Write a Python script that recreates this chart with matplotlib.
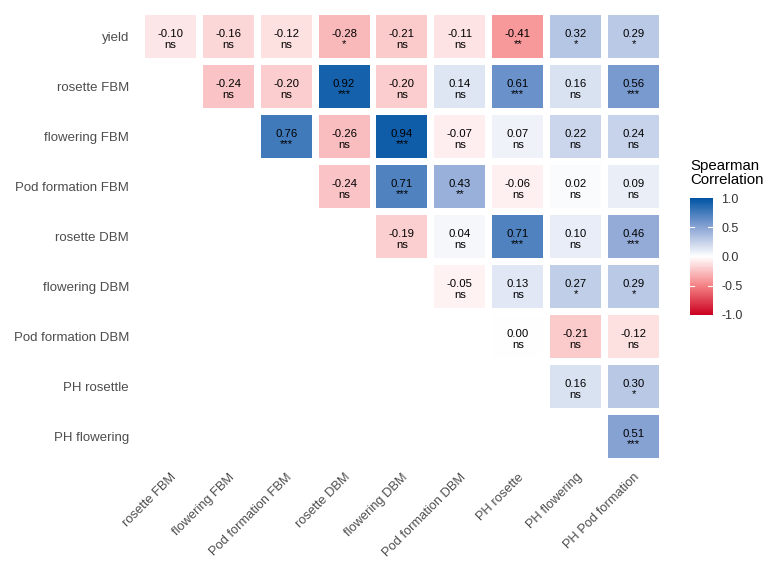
import numpy as np
import matplotlib.pyplot as plt
from matplotlib.colors import LinearSegmentedColormap, Normalize
from matplotlib.patches import Rectangle
from matplotlib.colorbar import ColorbarBase

plt.rcParams['font.family'] = ['Liberation Sans', 'DejaVu Sans']

# 行ラベル（上から）と列ラベル（左から）
row_labels = ["yield", "rosette FBM", "flowering FBM", "Pod formation FBM",
              "rosette DBM", "flowering DBM", "Pod formation DBM",
              "PH rosettle", "PH flowering"]
col_labels = ["rosette FBM", "flowering FBM", "Pod formation FBM",
              "rosette DBM", "flowering DBM", "Pod formation DBM",
              "PH rosette", "PH flowering", "PH Pod formation"]

# 上三角の相関係数（各行は列 i から始まる）
rho = [
    [-0.10, -0.16, -0.12, -0.28, -0.21, -0.11, -0.41, 0.32, 0.29],
    [-0.24, -0.20, 0.92, -0.20, 0.14, 0.61, 0.16, 0.56],
    [0.76, -0.26, 0.94, -0.07, 0.07, 0.22, 0.24],
    [-0.24, 0.71, 0.43, -0.06, 0.02, 0.09],
    [-0.19, 0.04, 0.71, 0.10, 0.46],
    [-0.05, 0.13, 0.27, 0.29],
    [0.00, -0.21, -0.12],
    [0.16, 0.30],
    [0.51],
]
sig = [
    ["ns", "ns", "ns", "*", "ns", "ns", "**", "*", "*"],
    ["ns", "ns", "***", "ns", "ns", "***", "ns", "***"],
    ["***", "ns", "***", "ns", "ns", "ns", "ns"],
    ["ns", "***", "**", "ns", "ns", "ns"],
    ["ns", "ns", "***", "ns", "***"],
    ["ns", "ns", "*", "*"],
    ["ns", "ns", "ns"],
    ["ns", "*"],
    ["***"],
]

cmap = LinearSegmentedColormap.from_list(
    "rwb", [(0.0, "#CA0020"), (0.25, "#F58285"), (0.5, "#FFFFFF"),
            (0.75, "#8AA4D4"), (1.0, "#0054A4")])
norm = Normalize(-1, 1)

fig = plt.figure(figsize=(7.76, 5.79), dpi=100)
ax = fig.add_axes([0.1823, 0.2029, 0.6714, 0.7772])

tw, th = 0.88, 0.86
for i, (vals, ss) in enumerate(zip(rho, sig)):
    for k, (v, s) in enumerate(zip(vals, ss)):
        j = i + k
        ax.add_patch(Rectangle((j - tw / 2, i - th / 2), tw, th,
                               facecolor=cmap(norm(v)), edgecolor='none'))
        ax.text(j, i + 0.01, f"{v:.2f}", ha='center', va='baseline',
                fontsize=8.2, color='black')
        ax.text(j, i + 0.22, s, ha='center', va='baseline',
                fontsize=8.2, color='black')

ax.set_xlim(-0.5, len(col_labels) - 0.5)
ax.set_ylim(len(row_labels) - 0.5, -0.5)
ax.set_xticks(range(len(col_labels)))
ax.set_yticks(range(len(row_labels)))
ax.set_xticklabels(col_labels, rotation=45, ha='right', va='top',
                   rotation_mode='anchor', color='#4D4D4D', fontsize=9.3)
ax.set_yticklabels(row_labels, color='#4D4D4D', fontsize=9.5)
ax.tick_params(length=0, pad=9)
ax.tick_params(axis='x', pad=7)
for sp in ax.spines.values():
    sp.set_visible(False)

# カラーバー
cax = fig.add_axes([0.889, 0.456, 0.0296, 0.202])
cb = ColorbarBase(cax, cmap=cmap, norm=norm, orientation='vertical',
                  ticks=[-1.0, -0.5, 0.0, 0.5, 1.0])
cb.outline.set_visible(False)
cb.ax.set_yticklabels(["-1.0", "-0.5", "0.0", "0.5", "1.0"])
cb.ax.tick_params(length=0, labelsize=9, labelcolor='#333333', pad=6)
for t in [-0.5, 0.0, 0.5]:
    cax.plot([0, 0.2], [t, t], color='white', lw=0.8)
    cax.plot([0.8, 1.0], [t, t], color='white', lw=0.8)
fig.text(0.890, 0.677, "Spearman\nCorrelation", fontsize=10.8, color='black',
         ha='left', va='bottom', linespacing=1.0)

fig.savefig("out.png", dpi=100)
